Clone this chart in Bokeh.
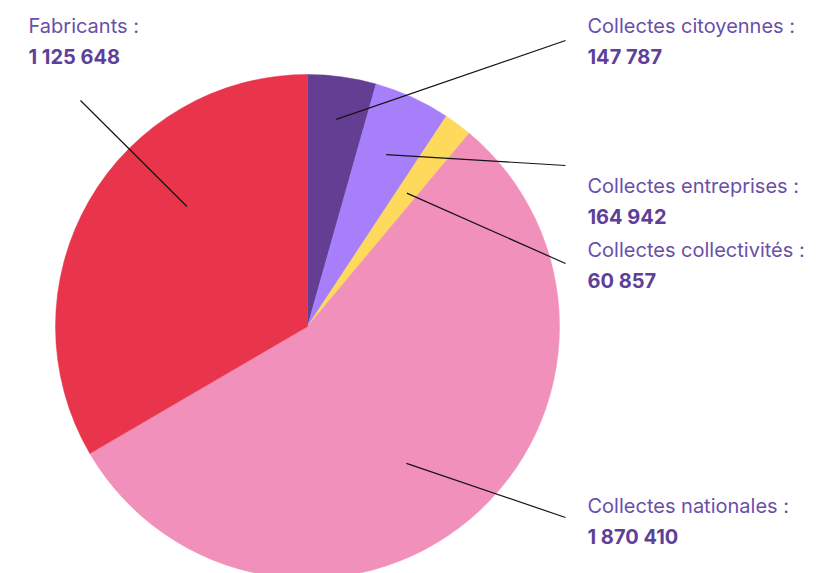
import math
from bokeh.plotting import figure
from bokeh.models import Range1d, ColumnDataSource
from bokeh.core.properties import value
from bokeh.embed import file_html
from bokeh.resources import INLINE

# ---- data ----
categories = ["Collectes citoyennes", "Collectes entreprises", "Collectes collectivités",
              "Collectes nationales", "Fabricants"]
values = [147787, 164942, 60857, 1870410, 1125648]
value_labels = ["147 787", "164 942", "60 857", "1 870 410", "1 125 648"]
colors = ["#643e92", "#a77ffb", "#fdda5c", "#f090bb", "#e8354b"]

# ---- layout (page pixel coordinates, y down) ----
W, H = 820, 573
cx, cy, R = 307, 326, 252
anchor_frac = [0.83, 0.75, 0.66, 0.67, 0.675]
anchor_angle_shift = [0.0, 0.0, 0.0, 4.3, 15.0]  # degrees, clockwise
label_end = [(565, 40), (565, 165), (565, 263), (565, 517), (80, 100)]
label_pos = [(587, 25), (587, 185), (587, 249), (587, 505), (28, 25)]
line_gap = 31

def Y(y):
    return -y

p = figure(width=W, height=H, output_backend="svg", toolbar_location=None,
           x_range=Range1d(0, W), y_range=Range1d(-H, 0),
           min_border=0, outline_line_color=None, background_fill_color="white",
           border_fill_color="white")
p.axis.visible = False
p.grid.visible = False

total = float(sum(values))
cum = 0.0
starts, ends, mids = [], [], []
for v in values:
    a0 = math.pi / 2 - cum / total * 2 * math.pi
    cum += v
    a1 = math.pi / 2 - cum / total * 2 * math.pi
    starts.append(a1)
    ends.append(a0)
    mids.append((a0 + a1) / 2)

src = ColumnDataSource(dict(x=[cx] * len(values), y=[Y(cy)] * len(values),
                            start=starts, end=ends, color=colors))
p.wedge(x="x", y="y", radius=R, start_angle="start", end_angle="end",
        fill_color="color", line_color="color", line_width=0.5, source=src)

xs, ys = [], []
for i, m in enumerate(mids):
    a = m - math.radians(anchor_angle_shift[i])
    r = anchor_frac[i] * R
    ax = cx + r * math.cos(a)
    ay = Y(cy) + r * math.sin(a)
    ex, ey = label_end[i]
    xs.append([ax, ex])
    ys.append([ay, Y(ey)])
p.multi_line(xs=xs, ys=ys, line_color="#141414", line_width=1.2)

tx = [lp[0] for lp in label_pos]
ty1 = [Y(lp[1]) for lp in label_pos]
ty2 = [Y(lp[1] + line_gap) for lp in label_pos]
p.text(x=tx, y=ty1, text=[c + " :" for c in categories], text_font=value("Inter"),
       text_font_size="20px", text_color="#6a4fa8", text_baseline="alphabetic")
p.text(x=tx, y=ty2, text=value_labels, text_font=value("Inter"),
       text_font_size="20px", text_font_style="bold", text_color="#5e3f9a",
       text_baseline="alphabetic")

open("out.html", "w").write(file_html(p, INLINE))
